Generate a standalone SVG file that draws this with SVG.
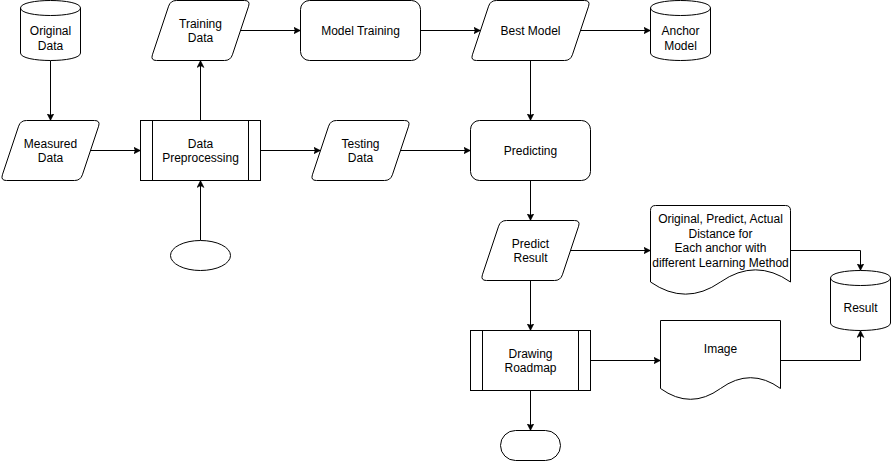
<svg xmlns="http://www.w3.org/2000/svg" width="891" height="461" viewBox="0 0 891 461">
<style>
.s{fill:#fff;stroke:#000;stroke-width:1}
.n{fill:none;stroke:#000;stroke-width:1}
.c{fill:none;stroke:#000;stroke-width:1;marker-end:url(#arr)}
text{font-family:"Liberation Sans",Arial,sans-serif;font-size:12px;fill:#000;text-anchor:middle}
</style>
<defs>
<marker id="arr" markerWidth="8" markerHeight="8" refX="7" refY="4" orient="auto" markerUnits="userSpaceOnUse" viewBox="0 0 8 8">
<path d="M0,0.5 L7,4 L0,7.5 L1.8,4 Z" fill="#000" stroke="#000" stroke-width="0.5"/>
</marker>
</defs>
<rect x="0" y="0" width="891" height="461" fill="#fff"/>
<g transform="translate(0.5,0.5)">
<g id="connectors">
<path class="c" d="M50,60 L50,120"/>
<path class="c" d="M90,150 L140,150"/>
<path class="c" d="M200,120 L200,60"/>
<path class="c" d="M240,30 L300,30"/>
<path class="c" d="M420,30 L480,30"/>
<path class="c" d="M580,30 L650,30"/>
<path class="c" d="M530,60 L530,120"/>
<path class="c" d="M260,150 L320,150"/>
<path class="c" d="M400,150 L470,150"/>
<path class="c" d="M200,240 L200,180"/>
<path class="c" d="M530,180 L530,220"/>
<path class="c" d="M570,250 L650,250"/>
<path class="c" d="M790,250 L860,250 L860,270"/>
<path class="c" d="M530,280 L530,330"/>
<path class="c" d="M590,360 L660,360"/>
<path class="c" d="M780,360 L860,360 L860,330"/>
<path class="c" d="M530,390 L530,430"/>
</g>
<g id="original-data">
<path class="s" d="M20,7.5 C20,-2.5 80,-2.5 80,7.5 L80,52.5 C80,62.5 20,62.5 20,52.5 Z"/>
<path class="n" d="M20,7.5 C20,17.5 80,17.5 80,7.5"/>
<text x="50" y="34.6">Original</text>
<text x="50" y="49">Data</text>
</g>
<g id="measured-data">
<path class="s" d="M26,120 L94,120 Q100,120 98.1,125.7 L81.9,174.3 Q80,180 74,180 L6,180 Q0,180 1.9,174.3 L18.1,125.7 Q20,120 26,120 Z"/>
<text x="50" y="147">Measured</text>
<text x="50" y="161.5">Data</text>
</g>
<g id="data-preprocessing">
<rect class="s" x="140" y="120" width="120" height="60"/>
<path class="n" d="M152,120 L152,180 M248,120 L248,180"/>
<text x="200" y="147">Data</text>
<text x="200" y="161.5">Preprocessing</text>
</g>
<g id="training-data">
<path class="s" d="M176,0 L244,0 Q250,0 248.1,5.7 L231.9,54.3 Q230,60 224,60 L156,60 Q150,60 151.9,54.3 L168.1,5.7 Q170,0 176,0 Z"/>
<text x="200" y="27">Training</text>
<text x="200" y="41.5">Data</text>
</g>
<g id="model-training">
<rect class="s" x="300" y="0" width="120" height="60" rx="9" ry="9"/>
<text x="360" y="34.3">Model Training</text>
</g>
<g id="best-model">
<path class="s" d="M496,0 L584,0 Q590,0 588.1,5.7 L571.9,54.3 Q570,60 564,60 L476,60 Q470,60 471.9,54.3 L488.1,5.7 Q490,0 496,0 Z"/>
<text x="530" y="34.3">Best Model</text>
</g>
<g id="anchor-model">
<path class="s" d="M650,7.5 C650,-2.5 710,-2.5 710,7.5 L710,52.5 C710,62.5 650,62.5 650,52.5 Z"/>
<path class="n" d="M650,7.5 C650,17.5 710,17.5 710,7.5"/>
<text x="680" y="34.6">Anchor</text>
<text x="680" y="49">Model</text>
</g>
<g id="testing-data">
<path class="s" d="M336,120 L404,120 Q410,120 408.1,125.7 L391.9,174.3 Q390,180 384,180 L316,180 Q310,180 311.9,174.3 L328.1,125.7 Q330,120 336,120 Z"/>
<text x="360" y="147">Testing</text>
<text x="360" y="161.5">Data</text>
</g>
<g id="predicting">
<rect class="s" x="470" y="120" width="120" height="60" rx="9" ry="9"/>
<text x="530" y="154.3">Predicting</text>
</g>
<g id="start">
<ellipse class="s" cx="200" cy="255" rx="30" ry="15"/>
</g>
<g id="predict-result">
<path class="s" d="M506,220 L574,220 Q580,220 578.1,225.7 L561.9,274.3 Q560,280 554,280 L486,280 Q480,280 481.9,274.3 L498.1,225.7 Q500,220 506,220 Z"/>
<text x="530" y="247">Predict</text>
<text x="530" y="261.5">Result</text>
</g>
<g id="distance-doc">
<path class="s" d="M655,205 L785,205 Q790,205 790,210 L790,281.5 Q755,257.2 720,281.5 Q685,305.8 650,281.5 L650,210 Q650,205 655,205 Z"/>
<text x="720" y="222.5">Original, Predict, Actual</text>
<text x="720" y="237">Distance for</text>
<text x="720" y="251.5">Each anchor with</text>
<text x="720" y="266">different Learning Method</text>
</g>
<g id="result">
<path class="s" d="M830,277.5 C830,267.5 890,267.5 890,277.5 L890,322.5 C890,332.5 830,332.5 830,322.5 Z"/>
<path class="n" d="M830,277.5 C830,287.5 890,287.5 890,277.5"/>
<text x="860" y="311.6">Result</text>
</g>
<g id="drawing-roadmap">
<rect class="s" x="470" y="330" width="120" height="60"/>
<path class="n" d="M482,330 L482,390 M578,330 L578,390"/>
<text x="530" y="357">Drawing</text>
<text x="530" y="371.5">Roadmap</text>
</g>
<g id="image-doc">
<path class="s" d="M660,320 L780,320 L780,388 Q750,366.4 720,388 Q690,409.6 660,388 Z"/>
<text x="720" y="352.3">Image</text>
</g>
<g id="end">
<rect class="s" x="500" y="430" width="60" height="30" rx="15" ry="15"/>
</g>
</g>
</svg>
